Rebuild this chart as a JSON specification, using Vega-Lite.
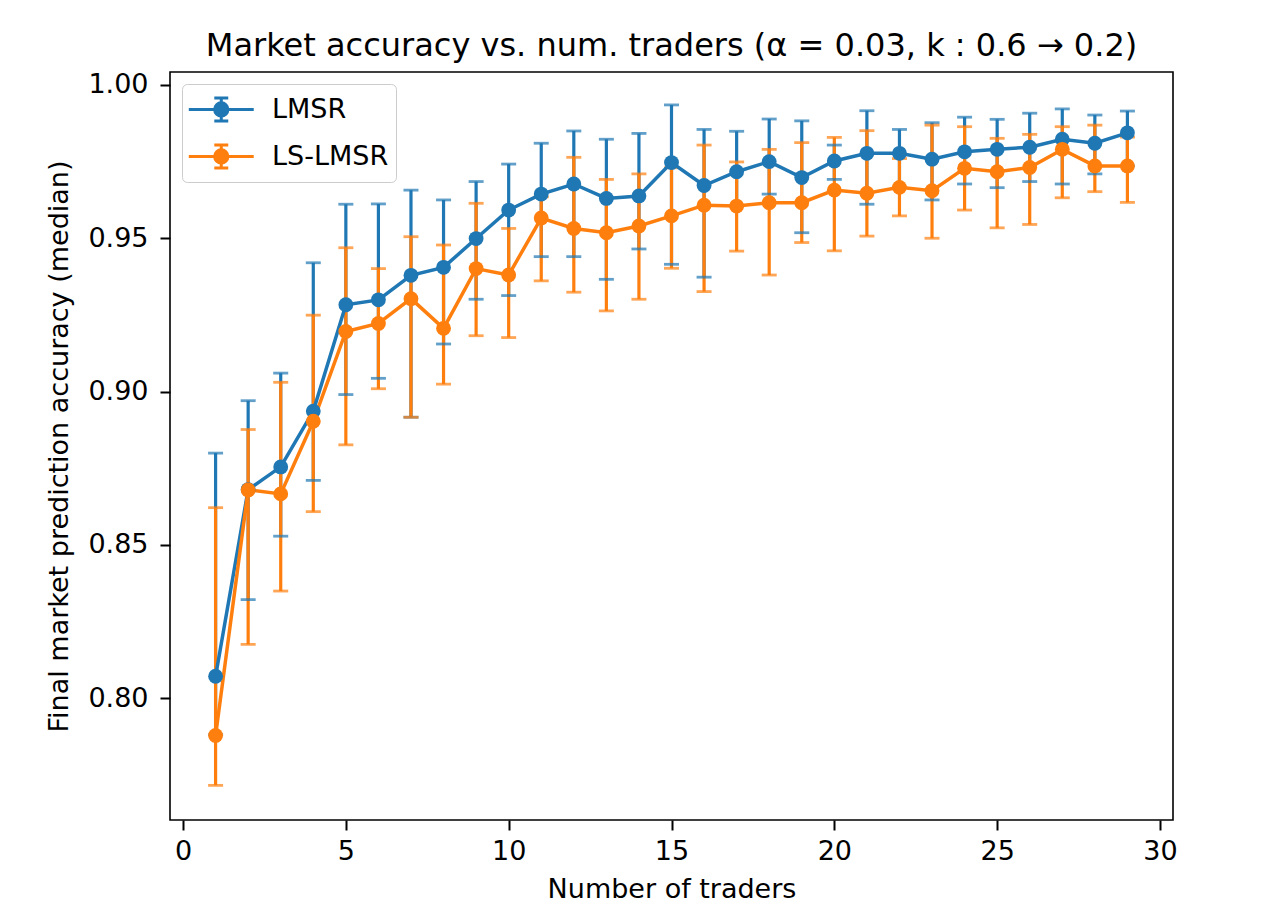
{
  "$schema": "https://vega.github.io/schema/vega-lite/v6.json",
  "width": 1003,
  "height": 748,
  "autosize": {"type": "none"},
  "padding": {"left": 170, "top": 72, "right": 105, "bottom": 89},
  "background": "white",
  "title": {
    "text": "Market accuracy vs. num. traders (α = 0.03, k : 0.6 → 0.2)",
    "font": "DejaVu Sans",
    "fontSize": 32,
    "fontWeight": "normal",
    "color": "black",
    "anchor": "middle",
    "frame": "group",
    "offset": 8
  },
  "data": {
    "values": [
      {"n": 1, "series": "LMSR", "med": 0.8071, "lo": 0.788, "hi": 0.8799},
      {"n": 2, "series": "LMSR", "med": 0.868, "lo": 0.8321, "hi": 0.897},
      {"n": 3, "series": "LMSR", "med": 0.8754, "lo": 0.8528, "hi": 0.906},
      {"n": 4, "series": "LMSR", "med": 0.8936, "lo": 0.871, "hi": 0.942},
      {"n": 5, "series": "LMSR", "med": 0.9283, "lo": 0.899, "hi": 0.9611},
      {"n": 6, "series": "LMSR", "med": 0.9299, "lo": 0.9043, "hi": 0.9612},
      {"n": 7, "series": "LMSR", "med": 0.9379, "lo": 0.8916, "hi": 0.9657},
      {"n": 8, "series": "LMSR", "med": 0.9405, "lo": 0.9155, "hi": 0.9625},
      {"n": 9, "series": "LMSR", "med": 0.9499, "lo": 0.9301, "hi": 0.9685},
      {"n": 10, "series": "LMSR", "med": 0.9592, "lo": 0.9313, "hi": 0.9742},
      {"n": 11, "series": "LMSR", "med": 0.9644, "lo": 0.944, "hi": 0.981},
      {"n": 12, "series": "LMSR", "med": 0.9677, "lo": 0.944, "hi": 0.985},
      {"n": 13, "series": "LMSR", "med": 0.963, "lo": 0.9366, "hi": 0.9823},
      {"n": 14, "series": "LMSR", "med": 0.9638, "lo": 0.9465, "hi": 0.9842},
      {"n": 15, "series": "LMSR", "med": 0.9747, "lo": 0.9415, "hi": 0.9935},
      {"n": 16, "series": "LMSR", "med": 0.9672, "lo": 0.9373, "hi": 0.9855},
      {"n": 17, "series": "LMSR", "med": 0.9717, "lo": 0.9605, "hi": 0.9849},
      {"n": 18, "series": "LMSR", "med": 0.975, "lo": 0.9644, "hi": 0.9889},
      {"n": 19, "series": "LMSR", "med": 0.9698, "lo": 0.9518, "hi": 0.9883},
      {"n": 20, "series": "LMSR", "med": 0.9752, "lo": 0.9692, "hi": 0.9804},
      {"n": 21, "series": "LMSR", "med": 0.9777, "lo": 0.9611, "hi": 0.9916},
      {"n": 22, "series": "LMSR", "med": 0.9777, "lo": 0.9666, "hi": 0.9855},
      {"n": 23, "series": "LMSR", "med": 0.9758, "lo": 0.9625, "hi": 0.9877},
      {"n": 24, "series": "LMSR", "med": 0.9782, "lo": 0.9677, "hi": 0.9895},
      {"n": 25, "series": "LMSR", "med": 0.979, "lo": 0.9665, "hi": 0.9888},
      {"n": 26, "series": "LMSR", "med": 0.9797, "lo": 0.9685, "hi": 0.9908},
      {"n": 27, "series": "LMSR", "med": 0.9823, "lo": 0.9677, "hi": 0.9922},
      {"n": 28, "series": "LMSR", "med": 0.981, "lo": 0.971, "hi": 0.9902},
      {"n": 29, "series": "LMSR", "med": 0.9844, "lo": 0.9736, "hi": 0.9915},
      {"n": 1, "series": "LS-LMSR", "med": 0.7878, "lo": 0.7715, "hi": 0.8621},
      {"n": 2, "series": "LS-LMSR", "med": 0.8679, "lo": 0.8175, "hi": 0.8876},
      {"n": 3, "series": "LS-LMSR", "med": 0.8666, "lo": 0.8349, "hi": 0.903},
      {"n": 4, "series": "LS-LMSR", "med": 0.8903, "lo": 0.8608, "hi": 0.9249},
      {"n": 5, "series": "LS-LMSR", "med": 0.9196, "lo": 0.8826, "hi": 0.9469},
      {"n": 6, "series": "LS-LMSR", "med": 0.9222, "lo": 0.9009, "hi": 0.9401},
      {"n": 7, "series": "LS-LMSR", "med": 0.9303, "lo": 0.8916, "hi": 0.9505},
      {"n": 8, "series": "LS-LMSR", "med": 0.9206, "lo": 0.9024, "hi": 0.9478},
      {"n": 9, "series": "LS-LMSR", "med": 0.9401, "lo": 0.9182, "hi": 0.9614},
      {"n": 10, "series": "LS-LMSR", "med": 0.938, "lo": 0.9176, "hi": 0.9532},
      {"n": 11, "series": "LS-LMSR", "med": 0.9566, "lo": 0.9361, "hi": 0.9635},
      {"n": 12, "series": "LS-LMSR", "med": 0.9532, "lo": 0.9324, "hi": 0.9764},
      {"n": 13, "series": "LS-LMSR", "med": 0.9518, "lo": 0.9263, "hi": 0.9692},
      {"n": 14, "series": "LS-LMSR", "med": 0.954, "lo": 0.9301, "hi": 0.971},
      {"n": 15, "series": "LS-LMSR", "med": 0.9573, "lo": 0.9402, "hi": 0.973},
      {"n": 16, "series": "LS-LMSR", "med": 0.9608, "lo": 0.9326, "hi": 0.9804},
      {"n": 17, "series": "LS-LMSR", "med": 0.9605, "lo": 0.9458, "hi": 0.9749},
      {"n": 18, "series": "LS-LMSR", "med": 0.9616, "lo": 0.938, "hi": 0.979},
      {"n": 19, "series": "LS-LMSR", "med": 0.9616, "lo": 0.9486, "hi": 0.9812},
      {"n": 20, "series": "LS-LMSR", "med": 0.9657, "lo": 0.9459, "hi": 0.9829},
      {"n": 21, "series": "LS-LMSR", "med": 0.9647, "lo": 0.9507, "hi": 0.9851},
      {"n": 22, "series": "LS-LMSR", "med": 0.9666, "lo": 0.9573, "hi": 0.976},
      {"n": 23, "series": "LS-LMSR", "med": 0.9655, "lo": 0.95, "hi": 0.9869},
      {"n": 24, "series": "LS-LMSR", "med": 0.9728, "lo": 0.9592, "hi": 0.9864},
      {"n": 25, "series": "LS-LMSR", "med": 0.9717, "lo": 0.9534, "hi": 0.9826},
      {"n": 26, "series": "LS-LMSR", "med": 0.9731, "lo": 0.9545, "hi": 0.9839},
      {"n": 27, "series": "LS-LMSR", "med": 0.979, "lo": 0.9632, "hi": 0.9864},
      {"n": 28, "series": "LS-LMSR", "med": 0.9736, "lo": 0.9652, "hi": 0.9869},
      {"n": 29, "series": "LS-LMSR", "med": 0.9736, "lo": 0.9617, "hi": 0.983}
    ]
  },
  "encoding": {
    "x": {
      "field": "n",
      "type": "quantitative",
      "scale": {"domain": [-0.4, 30.4], "nice": false, "zero": false},
      "axis": {"values": [0, 5, 10, 15, 20, 25, 30], "title": "Number of traders", "labelPadding": 8, "titlePadding": 12}
    },
    "color": {
      "field": "series",
      "type": "nominal",
      "scale": {"domain": ["LMSR", "LS-LMSR"], "range": ["#1f77b4", "#ff7f0e"]},
      "legend": {
        "title": null,
        "orient": "top-left",
        "offset": 12,
        "padding": 7,
        "fillColor": "white",
        "strokeColor": "#cccccc",
        "cornerRadius": 5,
        "symbolType": "M-1.1,0H2.72M0.81,-0.68V0.68M0.4,-0.68H1.22M0.4,0.68H1.22M1.2,0A0.39,0.39 0 1 1 0.42,0A0.39,0.39 0 1 1 1.2,0Z",
        "symbolSize": 1156,
        "symbolStrokeWidth": 3,
        "labelFont": "DejaVu Sans",
        "labelFontSize": 27,
        "labelColor": "black",
        "labelOffset": 46,
        "rowPadding": 10,
        "encode": {
          "symbols": {
            "update": {
              "fill": {"scale": "color", "field": "value"},
              "stroke": {"scale": "color", "field": "value"},
              "strokeWidth": {"value": 3},
              "opacity": {"value": 1}
            }
          }
        }
      }
    }
  },
  "layer": [
    {
      "mark": {"type": "rule", "strokeWidth": 3.2},
      "encoding": {
        "y": {
          "field": "lo",
          "type": "quantitative",
          "scale": {"domain": [0.7602, 1.00424], "nice": false, "zero": false},
          "axis": {"values": [0.8, 0.85, 0.9, 0.95, 1.0], "format": ".2f", "title": "Final market prediction accuracy (median)", "labelPadding": 12, "titlePadding": 14}
        },
        "y2": {"field": "hi"}
      }
    },
    {
      "mark": {"type": "tick", "orient": "horizontal", "size": 15, "thickness": 2.8},
      "encoding": {"y": {"field": "lo", "type": "quantitative"}}
    },
    {
      "mark": {"type": "tick", "orient": "horizontal", "size": 15, "thickness": 2.8},
      "encoding": {"y": {"field": "hi", "type": "quantitative"}}
    },
    {
      "mark": {"type": "line", "strokeWidth": 3.5},
      "encoding": {"y": {"field": "med", "type": "quantitative"}}
    },
    {
      "mark": {"type": "point", "shape": "circle", "filled": true, "size": 220, "opacity": 1},
      "encoding": {"y": {"field": "med", "type": "quantitative"}}
    }
  ],
  "config": {
    "view": {"stroke": "black", "strokeWidth": 1.6},
    "axis": {
      "grid": false,
      "domain": false,
      "ticks": true,
      "tickColor": "black",
      "tickSize": 10,
      "tickWidth": 2,
      "labelColor": "black",
      "labelFont": "DejaVu Sans",
      "labelFontSize": 27,
      "titleFont": "DejaVu Sans",
      "titleFontSize": 27,
      "titleFontWeight": "normal",
      "titleColor": "black"
    }
  }
}
